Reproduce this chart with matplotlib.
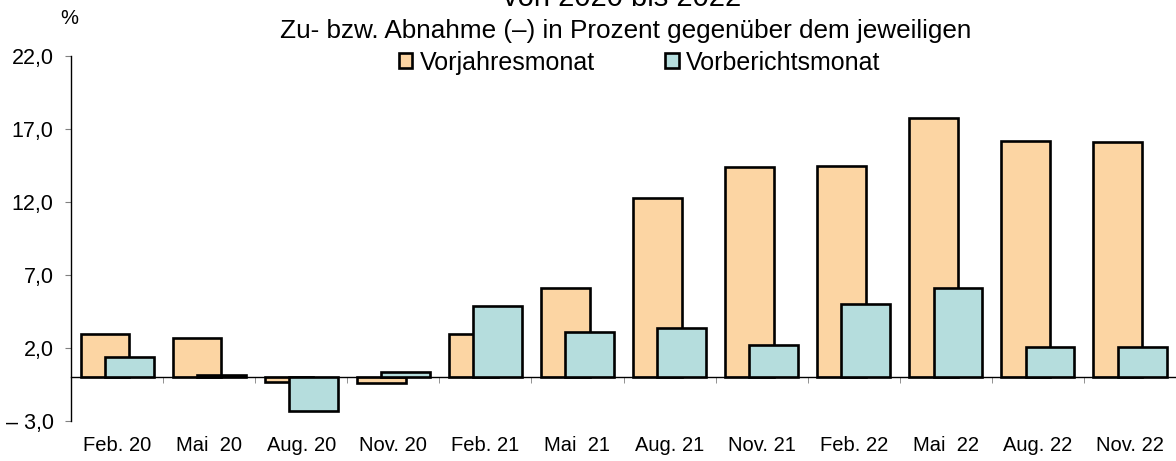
import matplotlib
matplotlib.use("Agg")
import matplotlib.pyplot as plt
import numpy as np

plt.rcParams['font.family'] = ['Liberation Sans', 'DejaVu Sans']

# data
months = ["Feb. 20", "Mai  20", "Aug. 20", "Nov. 20",
          "Feb. 21", "Mai  21", "Aug. 21", "Nov. 21",
          "Feb. 22", "Mai  22", "Aug. 22", "Nov. 22"]
vorjahresmonat = [3.0, 2.7, -0.3, -0.4, 3.0, 6.1, 12.3, 14.4, 14.5, 17.8, 16.2, 16.1]
vorberichtsmonat = [1.4, 0.2, -2.3, 0.4, 4.9, 3.1, 3.4, 2.2, 5.0, 6.1, 2.1, 2.1]
yticks = [-3, 2, 7, 12, 17, 22]
ytick_labels = ["\u2013 3,0", "2,0", "7,0", "12,0", "17,0", "22,0"]

orange = "#FCD5A3"
teal = "#B5DDDD"

fig = plt.figure(figsize=(11.76, 4.61), dpi=100)
ax = fig.add_axes([0.0604, 0.0861, 0.9396, 0.792])

x = np.arange(len(months))
w = 0.53
off = 0.132
b1 = ax.bar(x - off, vorjahresmonat, w, color=orange, edgecolor="black",
            linewidth=1.9, label="Vorjahresmonat", zorder=2)
b2 = ax.bar(x + off, vorberichtsmonat, w, color=teal, edgecolor="black",
            linewidth=1.9, label="Vorberichtsmonat", zorder=3)

ax.set_xlim(-0.5, len(months) - 0.5)
ax.set_ylim(-3, 22)

ax.set_yticks(yticks)
ax.set_yticklabels(ytick_labels, fontsize=15.5)
ax.tick_params(axis="y", direction="out", length=4.5, color="#808080", pad=8)

# x axis sits on the zero line, labels below the plot
ax.spines["bottom"].set_position(("data", 0))
ax.spines["top"].set_visible(False)
ax.spines["right"].set_visible(False)
ax.spines["left"].set_linewidth(1.0)
ax.spines["bottom"].set_linewidth(1.0)
ax.set_xticks(x)
ax.set_xticklabels(months, fontsize=14.5)
ax.set_xticks(np.arange(len(months)) + 0.5, minor=True)
ax.tick_params(axis="x", which="major", length=0, pad=42)
ax.tick_params(axis="x", which="minor", direction="out", length=4.5, color="#808080")

fig.text(0.059, 0.96, "%", fontsize=14.5, ha="center", va="center")
fig.text(0.529, 0.987, "von 2020 bis 2022", fontsize=21, ha="center", va="baseline")
fig.text(0.532, 0.918, "Zu- bzw. Abnahme (\u2013) in Prozent gegenüber dem jeweiligen",
         fontsize=18.8, ha="center", va="baseline")

fig.legend(handles=[b1, b2], loc="center", bbox_to_anchor=(0.544, 0.864), ncol=2,
           frameon=False, fontsize=18, handlelength=0.55, handleheight=0.55,
           handletextpad=0.3, columnspacing=2.8, borderaxespad=0)

fig.savefig("out.png", dpi=100)
